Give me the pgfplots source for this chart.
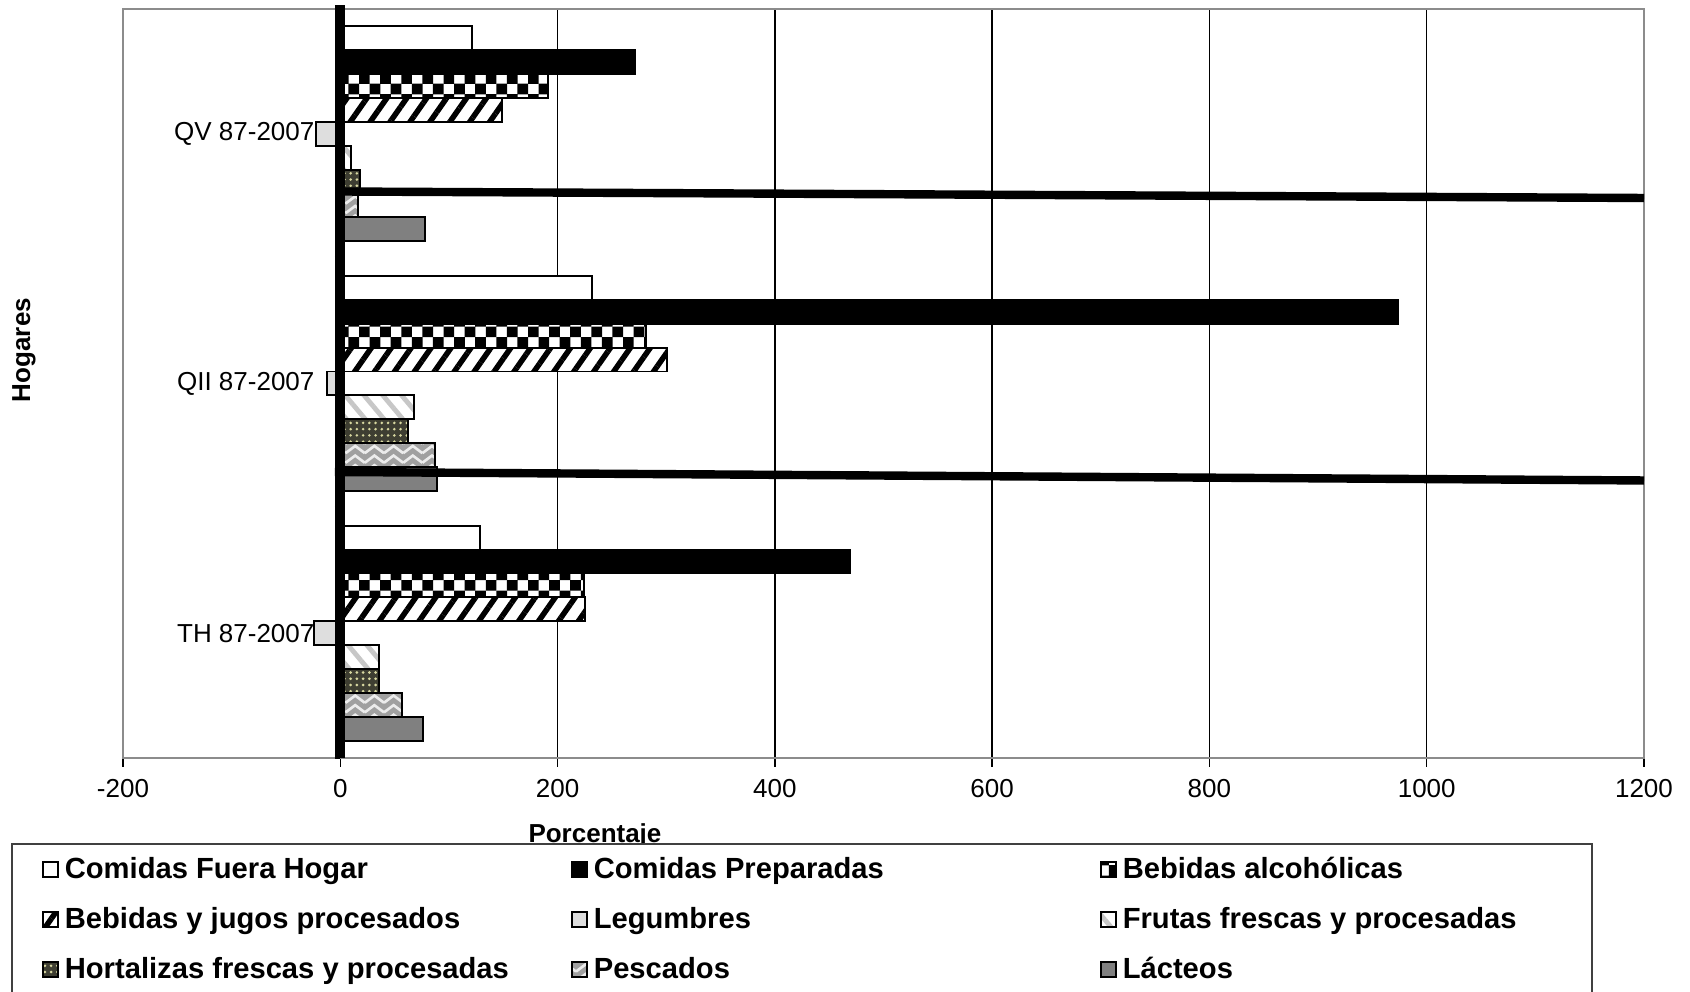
\documentclass[border=0pt]{standalone}
\usepackage{fontspec}
\setmainfont{Liberation Sans}
\usepackage{pgfplots}
\pgfplotsset{compat=1.18}
\usetikzlibrary{patterns,patterns.meta}
\pgfdeclarepatternformonly{bigchecker}{\pgfqpoint{-0.1pt}{-0.1pt}}{\pgfqpoint{8.9pt}{8.9pt}}{\pgfqpoint{8.8pt}{8.8pt}}{%
  \pgfpathrectangle{\pgfqpoint{0pt}{0pt}}{\pgfqpoint{4.45pt}{4.45pt}}%
  \pgfpathrectangle{\pgfqpoint{4.4pt}{4.4pt}}{\pgfqpoint{4.45pt}{4.45pt}}%
  \pgfusepath{fill}}
\pgfdeclarepatternformonly{zigzag}{\pgfqpoint{-1pt}{-1pt}}{\pgfqpoint{9pt}{5pt}}{\pgfqpoint{8pt}{4pt}}{%
  \pgfsetlinewidth{1.1pt}%
  \pgfpathmoveto{\pgfqpoint{0pt}{0.5pt}}%
  \pgfpathlineto{\pgfqpoint{4pt}{3.5pt}}%
  \pgfpathlineto{\pgfqpoint{8pt}{0.5pt}}%
  \pgfusepath{stroke}}
\pgfdeclarepatternformonly{bigdots}{\pgfqpoint{-1pt}{-1pt}}{\pgfqpoint{2pt}{2pt}}{\pgfqpoint{2.6pt}{2.6pt}}{%
  \pgfpathcircle{\pgfqpoint{0.5pt}{0.5pt}}{0.6pt}%
  \pgfusepath{fill}}
\definecolor{hort}{RGB}{62,62,50}
\definecolor{hortdot}{RGB}{215,215,160}
\definecolor{pesc}{RGB}{160,160,160}
\definecolor{legum}{RGB}{222,222,222}
\definecolor{lact}{RGB}{128,128,128}
\definecolor{borde}{RGB}{140,140,140}
\newcommand{\LA}[1]{\makebox[213.35pt][l]{\hspace{2.5pt}#1}}
\newcommand{\LC}[1]{\makebox[185.6pt][l]{\hspace{2.5pt}#1}}
\pgfplotsset{
  sq/.style={legend image code/.code={\draw[##1] (0pt,-3.1pt) rectangle (6.25pt,3.1pt);}},
  mybar/.style={xbar, bar width=0.0957, draw=black, line width=0.8pt},
}
\begin{document}
\begin{tikzpicture}
\begin{axis}[
  name=ax,
  scale only axis, width=633.75pt, height=312.08pt,
  xmin=-200, xmax=1200, ymin=-0.5, ymax=2.5,
  clip=false,
  xtick={-200,0,200,400,600,800,1000,1200},
  ytick={0,1,2}, yticklabels={TH 87-2007, QII 87-2007, QV 87-2007},
  xtick pos=lower,
  xmajorgrids, major grid style={black, line width=0.6pt},
  axis line style={borde, line width=1pt},
  tick align=outside, major tick length=3.75pt,
  xtick style={black, line width=0.6pt},
  ytick style={draw=none},
  tick label style={font=\fontsize{10.83}{13}\selectfont},
  /pgf/number format/assume math mode=true,
  /pgf/number format/1000 sep={},
  xticklabel style={anchor=north, inner sep=0pt, yshift=-5pt},
  yticklabel style={anchor=east, inner sep=0pt, xshift=83.7pt},
  xlabel={Porcentaje}, ylabel={Hogares},
  every axis x label/.style={at={(rel axis cs:0.3103,-0.11348)}, anchor=base, font=\fontsize{10.83}{13}\bfseries\selectfont},
  every axis y label/.style={at={(rel axis cs:-0.0651,0.5447)}, rotate=90, anchor=center, font=\fontsize{10.83}{13}\bfseries\selectfont},
  legend columns=3,
  legend style={at={(rel axis cs:-0.07364,-0.11348)}, anchor=north west, draw=black!75, line width=0.8pt, fill=white,
    inner xsep=12.5pt, inner ysep=5.6pt, row sep=10.4pt, column sep=0pt,
    nodes={inner sep=0pt, anchor=west, font=\fontsize{12.15}{14}\bfseries\selectfont}},
]
\addplot[mybar, bar shift=0.3828, fill=white, sq] coordinates {(129,0) (232,1) (121,2)};
\addlegendentry{\LA{Comidas Fuera Hogar}}
\addplot[mybar, bar shift=0.2871, fill=black, sq] coordinates {(469,0) (974,1) (271,2)};
\addlegendentry{\LA{Comidas Preparadas}}
\addplot[mybar, bar shift=0.1914, fill=white, postaction={pattern=bigchecker, pattern color=black}, sq] coordinates {(224,0) (281,1) (191,2)};
\addlegendentry{\LC{Bebidas alcohólicas}}
\addplot[mybar, bar shift=0.0957, fill=white, postaction={pattern={Lines[angle=55,distance=6.8pt,line width=2.3pt]}, pattern color=black}, sq] coordinates {(225,0) (301,1) (149,2)};
\addlegendentry{\LA{Bebidas y jugos procesados}}
\addplot[mybar, bar shift=0, fill=legum, sq] coordinates {(-24,0) (-12,1) (-22,2)};
\addlegendentry{\LA{Legumbres}}
\addplot[mybar, bar shift=-0.0957, fill=white, postaction={pattern={Lines[angle=-50,distance=6pt,line width=2pt]}, pattern color=black!22}, sq] coordinates {(36,0) (68,1) (10,2)};
\addlegendentry{\LC{Frutas frescas y procesadas}}
\addplot[mybar, bar shift=-0.1914, fill=hort, postaction={pattern=bigdots, pattern color=hortdot}, sq] coordinates {(36,0) (62,1) (18,2)};
\addlegendentry{\LA{Hortalizas frescas y procesadas}}
\addplot[mybar, bar shift=-0.2871, fill=pesc, postaction={pattern=zigzag, pattern color=white!85!gray}, sq] coordinates {(57,0) (87,1) (16,2)};
\addlegendentry{\LA{Pescados}}
\addplot[mybar, bar shift=-0.3828, fill=lact, sq] coordinates {(76,0) (89,1) (78,2)};
\addlegendentry{\LC{Lácteos}}
% vertical axis line at zero and its small ticks
\addplot[forget plot, black, line width=4.2pt] coordinates {(0,-0.5) (0,2.515)};
\addplot[forget plot, black, line width=2.2pt] coordinates {(-5,1.5) (0,1.5)};
\addplot[forget plot, black, line width=2.2pt] coordinates {(-5,0.5) (0,0.5)};
\addplot[forget plot, black, line width=2.2pt] coordinates {(-5,2.505) (0,2.505)};
\addplot[forget plot, black, line width=2.2pt] coordinates {(-5,-0.495) (0,-0.495)};
% the two long black lines
\addplot[forget plot, black, line width=3.5pt] coordinates {(0,1.769) (1200,1.743)};
\addplot[forget plot, black, line width=3.5pt] coordinates {(-5,0.6455) (1200,0.6115)};
\end{axis}
\pgfresetboundingbox
\useasboundingbox ([xshift=-51.25pt,yshift=-97.5pt]ax.south west) rectangle ([xshift=19.17pt,yshift=3.75pt]ax.north east);
\end{tikzpicture}
\end{document}
